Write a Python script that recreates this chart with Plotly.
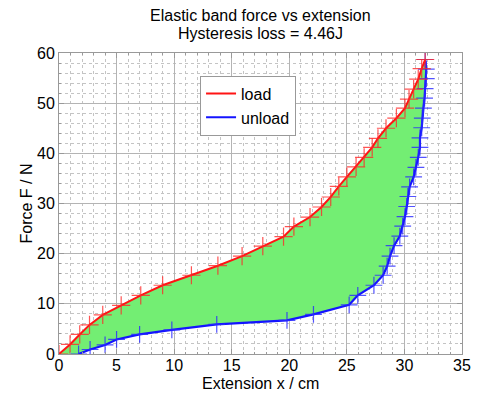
import plotly.graph_objects as go

# Load (increasing force)
load_x = [0, 0.96, 1.8, 2.65, 3.8, 5.4, 7.1, 9.0, 11.5, 13.8, 15.9, 17.7, 19.5, 20.4,
          21.8, 22.8, 23.6, 24.3, 25.0, 25.8, 26.5, 27.2, 27.7, 28.4, 29.3, 30.05,
          30.4, 30.8, 31.2, 31.5, 31.8]
load_y = [0, 1.9, 3.9, 5.8, 7.8, 9.7, 11.7, 13.7, 15.7, 17.6, 19.5, 21.5, 23.4, 25.4,
          27.3, 29.3, 31.3, 33.4, 35.3, 37.3, 39.2, 41.2, 43.0, 45.0, 47.0, 49.0,
          50.8, 52.8, 54.8, 56.9, 58.7]

# Unload (decreasing force), listed from bottom to top
unload_x = [1.7, 2.7, 4.0, 5.0, 7.0, 9.8, 13.7, 19.8, 22.1, 25.2, 25.95, 27.35, 28.15,
            28.5, 28.75, 29.1, 29.6, 29.85, 30.05, 30.2, 30.3, 30.45, 30.8, 31.0, 31.2,
            31.35, 31.35, 31.5, 31.55, 31.65, 31.75, 31.8, 31.9, 31.9, 31.8]
unload_y = [0, 0.9, 1.8, 2.9, 3.9, 4.8, 5.9, 6.7, 7.9, 9.8, 11.7, 13.7, 15.7, 17.5,
            19.5, 21.6, 23.5, 25.5, 27.4, 29.4, 31.4, 33.3, 35.3, 37.2, 39.2, 41.2,
            43.1, 45.1, 47.0, 49.0, 51.0, 52.9, 54.9, 56.8, 58.7]

title_lines = ["Elastic band force vs extension", "Hysteresis loss = 4.46J"]
x_label = "Extension x / cm"
y_label = "Force F / N"

FONT = "Liberation Sans, Arial, sans-serif"
FS = 16

fig = go.Figure()

# green hysteresis area
fig.add_trace(go.Scatter(
    x=load_x + unload_x[::-1], y=load_y + unload_y[::-1],
    fill="toself", fillcolor="rgb(115,238,115)", mode="none",
    showlegend=False, hoverinfo="skip"))

# unload
fig.add_trace(go.Scatter(x=unload_x, y=unload_y, mode="lines", name="unload",
                         line=dict(color="rgb(20,20,255)", width=2.2)))
fig.add_trace(go.Scatter(x=unload_x, y=unload_y, mode="markers", showlegend=False,
                         marker=dict(symbol="cross-thin", size=12,
                                     line=dict(color="rgba(40,40,255,0.8)", width=1.2))))
# load
fig.add_trace(go.Scatter(x=load_x, y=load_y, mode="lines", name="load",
                         line=dict(color="rgb(255,20,20)", width=2)))
fig.add_trace(go.Scatter(x=load_x, y=load_y, mode="markers", showlegend=False,
                         marker=dict(symbol="cross-thin", size=13,
                                     line=dict(color="rgba(255,40,40,0.8)", width=1.2))))

axis_common = dict(
    showline=True, linecolor="#999999", linewidth=1, mirror="allticks",
    ticks="inside", ticklen=5, tickcolor="#999999",
    showgrid=True, gridcolor="#b4b4b4", gridwidth=1,
    zeroline=False, automargin=False,
    tickfont=dict(family=FONT, size=FS, color="black"),
)

fig.update_xaxes(range=[0, 35], dtick=5, tick0=0, ticklabelstandoff=-3,
                 minor=dict(dtick=1, showgrid=True, gridcolor="#c4c4c4", griddash="dot",
                            ticks="inside", ticklen=2, tickcolor="#999999"),
                 **axis_common)
fig.update_yaxes(range=[0, 60], dtick=10, tick0=0,
                 minor=dict(dtick=2, showgrid=True, gridcolor="#c4c4c4", griddash="dot",
                            ticks="inside", ticklen=2, tickcolor="#999999"),
                 **axis_common)

H = 394
plot_top, plot_bot = 53, 354
ph = plot_bot - plot_top


def paper_y(px_from_top):
    return (plot_bot - px_from_top) / ph


annotations = [
    dict(text=title_lines[0], x=0.5, xref="paper", xanchor="center",
         y=paper_y(15), yref="paper", yanchor="middle", showarrow=False,
         font=dict(family=FONT, size=FS, color="black")),
    dict(text=title_lines[1], x=0.5, xref="paper", xanchor="center",
         y=paper_y(34), yref="paper", yanchor="middle", showarrow=False,
         font=dict(family=FONT, size=FS, color="black")),
    dict(text=x_label, x=0.5, xref="paper", xanchor="center",
         y=paper_y(383), yref="paper", yanchor="middle", showarrow=False,
         font=dict(family=FONT, size=FS, color="black")),
    dict(text=y_label, x=0, xref="paper", xshift=-33, xanchor="center",
         y=0.5, yref="paper", yanchor="middle", showarrow=False, textangle=-90,
         font=dict(family=FONT, size=FS, color="black")),
]

fig.update_layout(
    width=477, height=394,
    margin=dict(l=59, r=15, t=53, b=40, autoexpand=False),
    paper_bgcolor="white", plot_bgcolor="white",
    annotations=annotations,
    legend=dict(x=0.35, y=0.925, xanchor="left", yanchor="top",
                bgcolor="white", bordercolor="#999999", borderwidth=1,
                font=dict(family=FONT, size=FS, color="black"),
                traceorder="reversed", tracegroupgap=0),
    showlegend=True,
)

fig.write_html("out.html", config={"displayModeBar": False},
               post_script="document.body.style.margin='0';document.body.style.overflow='hidden';")
